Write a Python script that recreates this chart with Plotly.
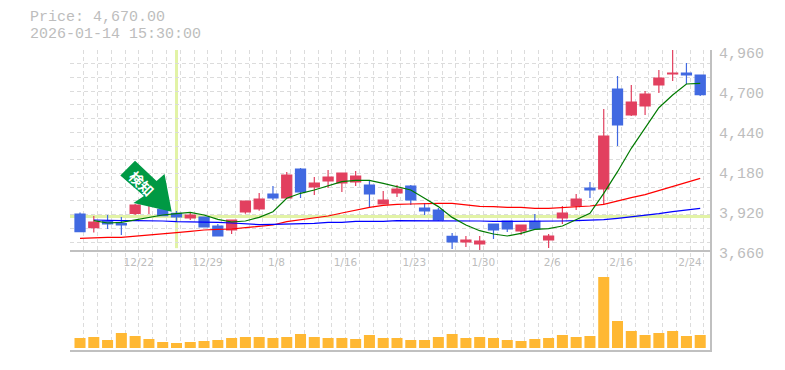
import plotly.graph_objects as go

dates = ["12/22", "12/29", "1/8", "1/16", "1/23", "1/30", "2/6", "2/16", "2/24"]
date_idx = [4, 9, 14, 19, 24, 29, 34, 39, 44]
price_ticks = [3660, 3920, 4180, 4440, 4700, 4960]
signal_idx = 7
signal_price = 3877

opens = [3894, 3805, 3848.5, 3831, 3898, 3965, 3925, 3898, 3868, 3874.5, 3816, 3790, 3907, 3926.5, 4024, 3998,
         4186.5, 4069.5, 4108.5, 4095.5, 4102, 4082.5, 3959, 4030.5, 4076, 3933, 3920, 3749, 3712, 3699, 3829, 3848.5,
         3783.5, 3846, 3725, 3868, 3946, 4063, 4056.5, 4706.5, 4537.5, 4596, 4732.5, 4804, 4810.5, 4797.5]
highs = [3903, 3881, 3887.5, 3874, 3959, 4000, 3935, 3913.5, 3905, 3876.7, 3829, 3859, 3978.5, 4030.5, 4076, 4167,
         4193, 4134.5, 4180, 4160.5, 4173.5, 4115, 4043.5, 4082.5, 4082.5, 3965.5, 3933, 3770.5, 3751, 3751, 3829, 3848.5,
         3822.5, 3894, 3764, 3946, 4024, 4102, 4576.5, 4791, 4732.5, 4693.5, 4830, 4980, 4875.5, 4797.5]
lows = [3779, 3773, 3796, 3757.5, 3887.5, 3894, 3883, 3844, 3855, 3809.5, 3751, 3764, 3896, 3915.7, 3985, 3998,
        3998, 4017.5, 4063, 4037, 4076, 3937, 3959, 4004.5, 3952.5, 3887.5, 3848.5, 3666.5, 3679.5, 3660, 3731.5, 3777,
        3757.5, 3796.5, 3673, 3829, 3920, 3998, 3959, 4336, 4531, 4537.5, 4680.5, 4758.5, 4739, 4661]
closes = [3779, 3842, 3829, 3822.5, 3952.5, 3990, 3883, 3874.5, 3887.5, 3809.5, 3751, 3855, 3978.5, 3991.5, 3998, 4147.5,
          4037, 4095.5, 4134.5, 4160.5, 4141, 4024, 3985, 4056.5, 3985, 3913.5, 3855, 3712, 3725, 3718.5, 3790, 3796.5,
          3822.5, 3796.5, 3751, 3900.5, 3991.5, 4050, 4401, 4472.5, 4622, 4674, 4778, 4810.5, 4797.5, 4670]
ma_short = [None, 3850.7, 3835.5, 3840, 3855, 3874.5, 3887.5, 3896, 3905, 3887.5, 3859, 3842, 3848.5, 3872, 3909, 3996,
            4028.5, 4050, 4076, 4104, 4113, 4113, 4093, 4072, 4050, 3996, 3942, 3872, 3822.5, 3785.5, 3764, 3751,
            3768, 3794, 3798.6, 3816, 3859, 3898, 4028, 4169, 4321, 4457, 4585, 4667.5, 4739, 4743]
ma_mid = [3736, 3740, 3742, 3742, 3749, 3755, 3764, 3773, 3781, 3790, 3794, 3796.5, 3805, 3814, 3822.5, 3844,
          3855, 3866, 3881, 3900.5, 3920, 3937, 3950, 3957, 3959, 3963, 3963, 3963, 3955, 3944, 3942, 3937,
          3937, 3931, 3931, 3937, 3944, 3946, 3957, 3976, 4000, 4020, 4046, 4076, 4100, 4126]
ma_long = [None, 3855, 3851, 3851, 3851, 3851, 3848.5, 3844, 3844, 3844, 3840, 3835.5, 3831, 3825, 3827, 3829,
           3831, 3833, 3840, 3840, 3846, 3846, 3846, 3851, 3851, 3851, 3851, 3851, 3848.5, 3848.5, 3846, 3846,
           3846, 3846, 3846, 3848.5, 3851, 3853, 3857, 3866, 3875, 3887.5, 3896, 3909, 3920, 3931]
volumes = [30, 33, 24, 45, 36, 27, 18, 15, 18, 21, 24, 30, 33, 33, 30, 33,
           42, 33, 30, 30, 27, 39, 30, 30, 24, 24, 33, 42, 30, 33, 30, 24,
           21, 27, 30, 39, 33, 36, 213, 81, 51, 39, 45, 51, 36, 39]

idx = list(range(len(closes)))
GRID = "#dcdcdc"
AXIS = "#c0c0c0"
TEXT = "#bdbdbd"
RED = "#e2405f"
BLUE = "#4169e1"
MARK = "#e2f3a6"
X_RANGE = [-0.726, 45.71]

fig = go.Figure()
fig.add_trace(go.Bar(x=idx, y=volumes, width=0.8, marker=dict(color="#ffb833", line=dict(width=0)),
                     xaxis="x", yaxis="y"))
fig.add_trace(go.Candlestick(x=idx, open=opens, high=highs, low=lows, close=closes,
                             increasing=dict(line=dict(color=RED, width=1.2), fillcolor=RED),
                             decreasing=dict(line=dict(color=BLUE, width=1.2), fillcolor=BLUE),
                             xaxis="x", yaxis="y2"))
for vals, col in ((ma_mid, "#ff0000"), (ma_long, "#0000ff"), (ma_short, "#007a00")):
    fig.add_trace(go.Scatter(x=idx, y=vals, mode="lines", line=dict(color=col, width=1.2),
                             connectgaps=False, xaxis="x", yaxis="y2"))
# Invisible carriers so the label axes are drawn
fig.add_trace(go.Scatter(x=[0], y=[4000], mode="markers", marker=dict(opacity=0), xaxis="x2", yaxis="y2", hoverinfo="skip"))
fig.add_trace(go.Scatter(x=[0], y=[4000], mode="markers", marker=dict(opacity=0), xaxis="x2", yaxis="y3", hoverinfo="skip"))

W, H = 777, 362
def px(x, y):
    return (x - 70) / 640, (350 - y) / 300

arrow = [(135, 160.7), (120.3, 175.5), (144, 196), (133.5, 203), (171.7, 211.7), (164.5, 174), (156.5, 181)]
path = "M " + " L ".join(f"{px(a,b)[0]:.4f},{px(a,b)[1]:.4f}" for a, b in arrow) + " Z"

fig.update_layout(
    width=W, height=H, autosize=False, showlegend=False,
    paper_bgcolor="white", plot_bgcolor="rgba(0,0,0,0)",
    margin=dict(l=62, r=75, t=42, b=20),
    boxgap=0.27, boxgroupgap=0,
    bargap=0.2,
    xaxis=dict(range=X_RANGE, domain=[0, 1], anchor="y", tick0=-0.726, dtick=1, tickmode="linear",
               showgrid=True, gridcolor=GRID, griddash="4px,3px", gridwidth=1, showticklabels=False,
               ticks="", zeroline=False, showline=True, linecolor=AXIS, linewidth=2,
               rangeslider=dict(visible=False)),
    xaxis2=dict(range=X_RANGE, domain=[0, 1], anchor="y2", overlaying="x", side="bottom",
                tickmode="array", tickvals=[i + 0.26 for i in date_idx], ticktext=dates,
                showgrid=False, zeroline=False, showline=True, linecolor=AXIS, linewidth=1.5,
                ticks="", ticklabelstandoff=2, tickfont=dict(family="DejaVu Sans", size=10.5, color=TEXT)),
    yaxis=dict(range=[-6, 894], domain=[0, 1], anchor="x", side="right",
               showgrid=False, showticklabels=False, ticks="", zeroline=False,
               showline=True, linecolor=AXIS, linewidth=2),
    yaxis2=dict(range=[3660, 4960], domain=[1 / 3, 1], anchor="x", tick0=4960, dtick=89.2, tickmode="linear",
                showgrid=True, gridcolor=GRID, griddash="4px,3px", gridwidth=1, showticklabels=False,
                ticks="", zeroline=False),
    yaxis3=dict(range=[3614.5, 4979.5], domain=[0.3, 1], anchor="x2", side="right",
                tickmode="array", tickvals=price_ticks, ticktext=[f"{v:,}" for v in price_ticks],
                showgrid=False, zeroline=False, showline=False, ticks="", ticklabelstandoff=8,
                tickfont=dict(family="Liberation Mono", size=15, color=TEXT)),
    shapes=[
        dict(type="line", xref="x", yref="y2", x0=X_RANGE[0], x1=X_RANGE[1], y0=signal_price, y1=signal_price,
             line=dict(color=MARK, width=3), layer="below"),
        dict(type="line", xref="x", yref="y2", x0=signal_idx, x1=signal_idx, y0=3672, y1=4960,
             line=dict(color=MARK, width=3), layer="below"),
        dict(type="path", xref="paper", yref="paper", path=path, fillcolor="#009944", line=dict(width=0), layer="above"),
    ],
    annotations=[
        dict(xref="paper", yref="paper", x=px(28, 17.5)[0], y=px(28, 17.5)[1], xanchor="left", yanchor="middle",
             text="Price: 4,670.00", showarrow=False, font=dict(family="Liberation Mono", size=15, color=TEXT)),
        dict(xref="paper", yref="paper", x=px(28, 34.5)[0], y=px(28, 34.5)[1], xanchor="left", yanchor="middle",
             text="2026-01-14 15:30:00", showarrow=False, font=dict(family="Liberation Mono", size=15, color=TEXT)),
        dict(xref="paper", yref="paper", x=px(141.5, 183)[0], y=px(141.5, 183)[1], text="<b>検知</b>", textangle=45,
             xanchor="center", yanchor="middle",
             showarrow=False, font=dict(family="Noto Sans CJK JP", size=14, color="white")),
    ],
)
fig.write_html("out.html")
